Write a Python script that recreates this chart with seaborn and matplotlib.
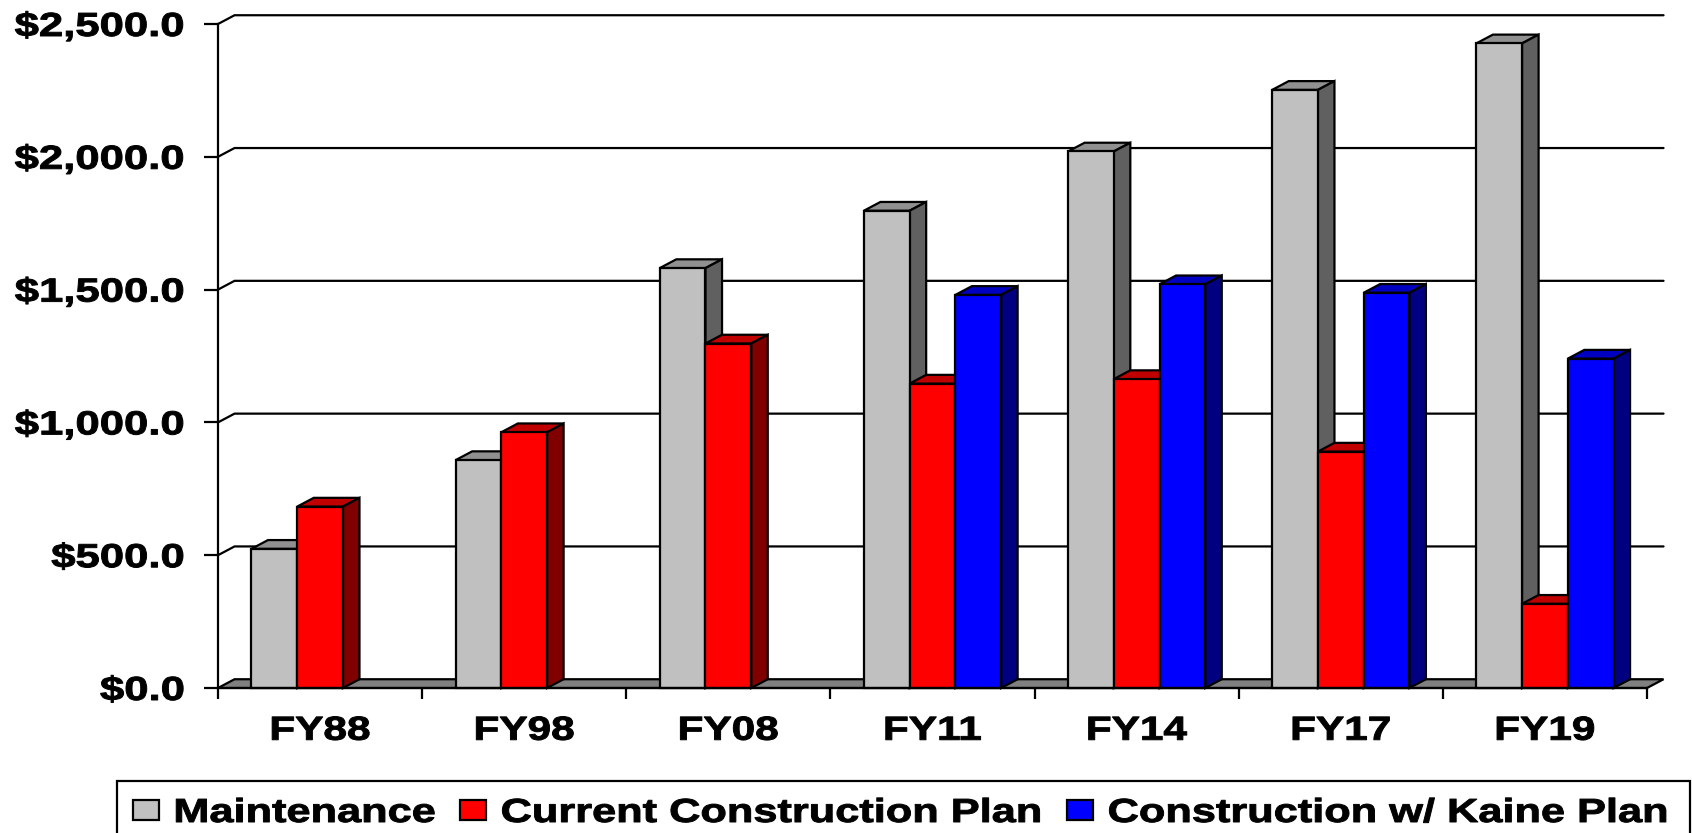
import matplotlib
matplotlib.use("Agg")
import matplotlib.pyplot as plt
import matplotlib.patheffects as pe
from matplotlib.patches import Polygon, Rectangle
from matplotlib.ticker import FixedLocator
from matplotlib.transforms import Affine2D
import numpy as np
import pandas as pd
import seaborn as sns

years = ["FY88", "FY98", "FY08", "FY11", "FY14", "FY17", "FY19"]
maintenance = [524, 858, 1581, 1797, 2020, 2252, 2427]
current_plan = [683, 963, 1297, 1146, 1163, 890, 317]
kaine_plan = [np.nan, np.nan, np.nan, 1480, 1520, 1488, 1240]
series_names = ["Maintenance", "Current Construction Plan", "Construction w/ Kaine Plan"]
y_ticks = [0, 500, 1000, 1500, 2000, 2500]

front = ["#C0C0C0", "#FF0000", "#0000FF"]
top_c = {"#C0C0C0": "#909090", "#FF0000": "#C00000", "#0000FF": "#0000C0"}
side_c = {"#C0C0C0": "#606060", "#FF0000": "#800000", "#0000FF": "#000080"}

W, H = 1692, 833
DX, DY = 0.081, 33  # 3-D depth in category and value units
LW = 1.6
FS = 24


class Stretch(pe.AbstractPathEffect):
    """Widen and slightly embolden glyphs about the text's anchor (the font looks expanded)."""
    def __init__(self, sx, anchor, stroke=0.7):
        super().__init__()
        self.sx, self.anchor, self.stroke = sx, anchor, stroke

    def draw_path(self, renderer, gc, tpath, affine, rgbFace=None):
        ext = tpath.get_extents()
        a = {"left": ext.x0, "center": (ext.x0 + ext.x1) / 2, "right": ext.x1}[self.anchor]
        st = Affine2D().translate(-a, 0).scale(self.sx, 1).translate(a, 0)
        gc0 = renderer.new_gc()
        gc0.copy_properties(gc)
        gc0.set_linewidth(self.stroke)
        gc0.set_foreground("black")
        renderer.draw_path(gc0, tpath, st + affine, rgbFace)
        gc0.restore()


sns.set_theme(style="white")
plt.rcParams["font.family"] = ["Liberation Sans", "DejaVu Sans"]
plt.rcParams["font.weight"] = "bold"

df = pd.DataFrame({"year": years, series_names[0]: maintenance,
                   series_names[1]: current_plan, series_names[2]: kaine_plan})
long = df.melt(id_vars="year", var_name="series", value_name="value")

fig = plt.figure(figsize=(W / 100, H / 100), dpi=100, facecolor="white")
ax = fig.add_axes([218 / W, (H - 688) / H, (1647 - 218) / W, (688 - 24) / H])
sns.barplot(data=long, x="year", y="value", hue="series", hue_order=series_names,
            order=years, palette=dict(zip(series_names, front)), width=0.672, gap=0,
            edgecolor="black", linewidth=LW, saturation=1, legend=False, ax=ax, zorder=5)
ax.set_xlim(-0.5, 6.5)
ax.set_ylim(0, 2500)
ax.set_xlabel("")
ax.set_ylabel("")
ax.set_facecolor("none")

# walls and floor
for v in y_ticks[1:]:
    ax.plot([-0.5, -0.5 + DX, 6.5 + DX], [v, v + DY, v + DY], color="black", lw=LW,
            clip_on=False, zorder=1, solid_joinstyle="miter")
ax.add_patch(Polygon([(-0.5, 0), (-0.5 + DX, DY), (6.5 + DX, DY), (6.5, 0)], closed=True,
                     facecolor="#808080", edgecolor="black", lw=LW, clip_on=False, zorder=2))

# 3-D faces derived from each bar seaborn drew
bars = [b for b in ax.patches if isinstance(b, Rectangle) and b.get_height() > 0]
for i, b in enumerate(sorted(bars, key=lambda r: r.get_x())):
    x0, x1, h = b.get_x(), b.get_x() + b.get_width(), b.get_height()
    col = matplotlib.colors.to_hex(b.get_facecolor()).upper()
    z = 5 + i
    b.set_zorder(z + 0.5)
    b.set_clip_on(False)
    ax.add_patch(Polygon([(x0, h), (x0 + DX, h + DY), (x1 + DX, h + DY), (x1, h)], closed=True,
                         facecolor=top_c[col], edgecolor="black", lw=LW, clip_on=False, zorder=z))
    ax.add_patch(Polygon([(x1, 0), (x1 + DX, DY), (x1 + DX, h + DY), (x1, h)], closed=True,
                         facecolor=side_c[col], edgecolor="black", lw=LW, clip_on=False, zorder=z))

# axes
for s in ("top", "right"):
    ax.spines[s].set_visible(False)
for s in ("left", "bottom"):
    ax.spines[s].set_color("black")
    ax.spines[s].set_linewidth(LW)
    ax.spines[s].set_zorder(40)
ax.set_yticks(y_ticks)
ax.set_yticklabels([f"${v:,.1f}" for v in y_ticks])
ax.xaxis.set_minor_locator(FixedLocator(np.arange(-0.5, 7, 1)))
ax.tick_params(axis="y", left=True, length=10, width=LW, color="black", pad=14,
               labelsize=FS, labelcolor="black")
ax.tick_params(axis="x", which="major", bottom=False, length=0, pad=20,
               labelsize=FS, labelcolor="black")
ax.tick_params(axis="x", which="minor", bottom=True, length=8, width=LW, color="black")
for t in ax.get_yticklabels():
    t.set_fontweight("bold")
    t.set_path_effects([Stretch(1.31, "right")])
for t in ax.get_xticklabels():
    t.set_fontweight("bold")
    t.set_path_effects([Stretch(1.27, "center")])


# legend (drawn on the figure so the widened labels get their true spacing)
def fx(x):
    return x / W


def fy(y):
    return (H - y) / H


fig.add_artist(Rectangle((fx(117), fy(845)), (1690 - 117) / W, (845 - 781) / H,
                         transform=fig.transFigure, facecolor="white", edgecolor="black", lw=LW))
swatch_x = [133, 460, 1067]
text_x = [174, 501, 1108]
for sx, tx, c, name in zip(swatch_x, text_x, front, series_names):
    fig.add_artist(Rectangle((fx(sx), fy(820)), 26 / W, 20 / H, transform=fig.transFigure,
                             facecolor=c, edgecolor="black", lw=LW))
    t = fig.text(fx(tx), fy(822), name, ha="left", va="baseline", fontsize=FS,
                 fontweight="bold", color="black")
    t.set_path_effects([Stretch(1.30, "left")])

fig.savefig("out.png", dpi=100, facecolor="white")
